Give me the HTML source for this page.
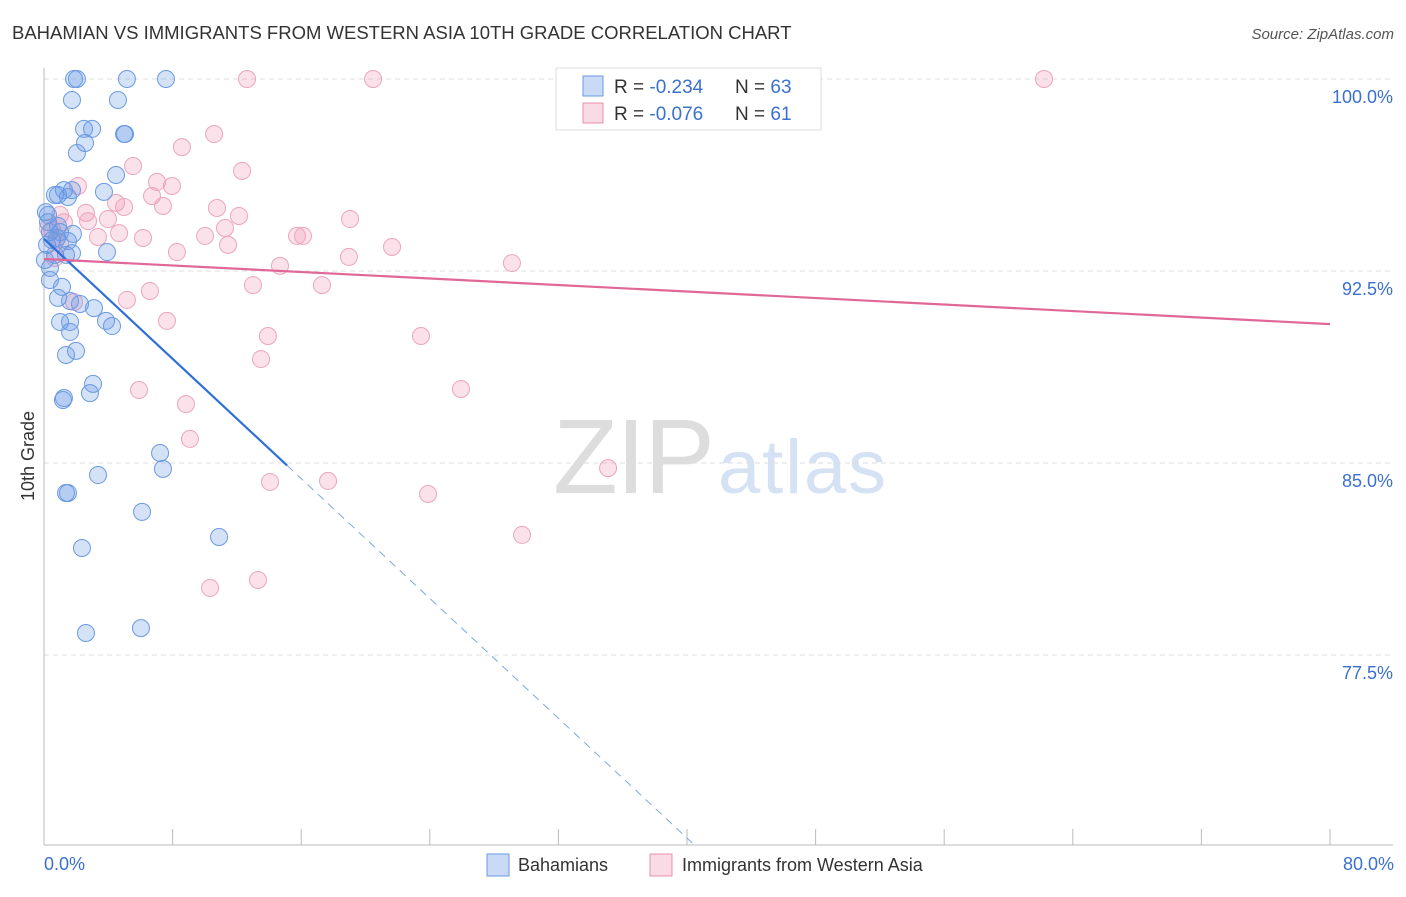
<!DOCTYPE html>
<html><head><meta charset="utf-8"><style>
body{margin:0;background:#fff;font-family:"Liberation Sans",sans-serif}
svg text{font-family:"Liberation Sans",sans-serif}
</style></head><body>
<svg id="chart" width="1406" height="892">
<text x="12" y="39" font-size="18.5" fill="#333">BAHAMIAN VS IMMIGRANTS FROM WESTERN ASIA 10TH GRADE CORRELATION CHART</text>
<text x="1394" y="39" font-size="15" fill="#555" text-anchor="end" font-style="italic">Source: ZipAtlas.com</text>
<g>
<text x="553" y="493" font-size="106" fill="#ddd" font-family="Liberation Serif" textLength="162">ZIP</text>
<text x="718" y="493" font-size="76" fill="#d4e2f4" textLength="168">atlas</text>
</g>
<g id="grid"></g><g id="axes"></g><g id="pts"></g><g id="lines"></g>
<text transform="translate(34,456) rotate(-90)" font-size="18" fill="#333" text-anchor="middle">10th Grade</text>
<g>
<rect x="556" y="68" width="265" height="62" fill="#fff" stroke="#ddd"/>
<rect x="583" y="76" width="20" height="20" fill="rgba(100,150,230,0.35)" stroke="#6a9ae0"/>
<text x="614" y="93" font-size="19" fill="#333">R = <tspan fill="#3a70d0">-0.234</tspan></text>
<text x="735" y="93" font-size="19" fill="#333">N = <tspan fill="#3a70d0">63</tspan></text>
<rect x="583" y="103" width="20" height="20" fill="rgba(240,150,180,0.35)" stroke="#e890b0"/>
<text x="614" y="120" font-size="19" fill="#333">R = <tspan fill="#3a70d0">-0.076</tspan></text>
<text x="735" y="120" font-size="19" fill="#333">N =  <tspan fill="#3a70d0">61</tspan></text>
</g>
<g>
<rect x="487" y="854" width="22" height="22" fill="rgba(100,150,230,0.35)" stroke="#6a9ae0"/>
<text x="518" y="871" font-size="18" fill="#333">Bahamians</text>
<rect x="650" y="854" width="22" height="22" fill="rgba(240,150,180,0.35)" stroke="#e890b0"/>
<text x="682" y="871" font-size="18" fill="#333">Immigrants from Western Asia</text>
</g>
</svg>
<script>
const yTicks=[100,92.5,85,77.5];
const yTickLabels=["100.0%","92.5%","85.0%","77.5%"];
const xTickLabels=["0.0%","80.0%"];
const blueX=[1.87,2.05,5.16,7.59,1.74,4.60,2.49,2.99,5.04,4.98,2.55,2.05,4.48,3.73,0.68,0.87,1.24,1.74,1.49,0.25,0.25,0.37,0.50,0.81,1.0,1.80,1.37,1.74,3.92,0.37,0.37,1.12,0.87,1.62,2.24,3.11,1.0,1.62,3.86,4.23,1.62,1.99,1.37,3.05,2.86,1.24,1.18,7.22,7.40,3.36,1.37,1.49,6.10,10.89,2.36,2.61,6.03,0.06,0.19,0.68,1.49,0.87,0.12];
const blueY=[100,100,100,100,99.18,99.18,98.05,98.05,97.85,97.85,97.5,97.11,96.25,95.59,95.47,95.47,95.66,95.66,95.39,94.69,94.41,94.02,93.71,93.79,94.02,93.95,93.13,93.20,93.24,92.62,92.15,91.88,91.45,91.33,91.21,91.05,90.51,90.51,90.55,90.35,90.12,89.38,89.22,88.09,87.73,87.54,87.46,85.39,84.77,84.53,83.83,83.83,83.09,82.11,81.68,78.36,78.55,92.93,93.52,93.13,93.67,94.26,94.80];
const pinkX=[12.63,20.47,44.04,62.21,10.58,8.58,5.54,12.32,7.03,7.96,2.11,6.72,4.48,4.98,7.40,10.76,12.13,19.04,2.61,3.98,1.0,2.74,11.26,4.67,3.36,6.16,10.02,15.74,16.11,21.65,11.45,8.27,18.97,29.11,14.68,0.50,0.75,1.0,13.0,17.29,6.59,5.16,1.87,7.65,13.93,23.45,13.50,25.94,5.91,8.83,9.08,35.09,14.06,17.67,23.89,29.74,13.31,10.33,0.25,0.68,1.24];
const pinkY=[100,100,100,100,97.85,97.34,96.60,96.41,95.98,95.82,95.82,95.43,95.16,95.0,95.04,94.96,94.65,94.53,94.77,94.53,94.69,94.45,94.18,93.98,93.83,93.79,93.87,93.87,93.87,93.44,93.52,93.24,93.05,92.81,92.70,94.10,93.71,93.59,91.95,91.95,91.72,91.37,91.29,90.55,89.96,89.96,89.06,87.89,87.85,87.30,85.94,84.80,84.26,84.30,83.79,82.19,80.43,80.12,94.18,93.01,94.41];
const blueFit=[93.75,-0.585];
const pinkFit=[92.97,-0.0318];
const NS="http://www.w3.org/2000/svg";
const X=v=>44+v*1286/80, Y=v=>79+(100-v)*25.6;
function mk(p,t,a){const e=document.createElementNS(NS,t);for(const k in a)e.setAttribute(k,a[k]);p.appendChild(e);return e;}
const grid=document.getElementById('grid'),axes=document.getElementById('axes'),pts=document.getElementById('pts'),lines=document.getElementById('lines');
yTicks.forEach((t,i)=>{
 const g=mk(grid,'line',{x1:44,x2:1393,y1:Y(t),y2:Y(t),stroke:'#ddd','stroke-dasharray':'5,4'});
 
 
 const l=mk(axes,'text',{x:1393,y:Y(t)+24,'font-size':18,fill:'#3a70d0','text-anchor':'end'});
 l.textContent=yTickLabels[i];
 
 
});
const ax=mk(axes,'line',{x1:44,x2:44,y1:68,y2:845,stroke:'#bbb'});


const bx=mk(axes,'line',{x1:44,x2:1393,y1:845,y2:845,stroke:'#bbb'});


for(let i=0;i<=10;i++){
 const t=mk(axes,'line',{x1:X(i*8),x2:X(i*8),y1:829,y2:845,stroke:'#bbb'});
 
 
}
[[0,'start',44],[80,'end',1394]].forEach((d,i)=>{
 const t=mk(axes,'text',{x:d[2],y:870,'font-size':18,fill:'#3a70d0','text-anchor':d[1]});
 t.textContent=xTickLabels[i];
 
 
});
function dots(xs,ys,fill,stroke,name){xs.forEach((x,i)=>{
 const c=mk(pts,'circle',{cx:X(x),cy:Y(ys[i]),r:8.5,fill:fill,stroke:stroke,'stroke-width':1});
 
 
});}
dots(pinkX,pinkY,'rgba(240,150,180,0.28)','#eca4bf','point-immigrants');
dots(blueX,blueY,'rgba(100,150,230,0.28)','#6b9ae0','point-bahamians');
const bEndSolid=15.12, bEnd=(blueFit[0]-70.1)/-blueFit[1];
const b1=mk(lines,'line',{x1:X(0),y1:Y(blueFit[0]),x2:X(bEndSolid),y2:Y(blueFit[0]+blueFit[1]*bEndSolid),stroke:'#2f6fd6','stroke-width':2.2});


const b2=mk(lines,'line',{x1:X(bEndSolid),y1:Y(blueFit[0]+blueFit[1]*bEndSolid),x2:X(bEnd),y2:Y(70.1),stroke:'#7fa6e4','stroke-width':1,'stroke-dasharray':'8,6'});


const p1=mk(lines,'line',{x1:X(0),y1:Y(pinkFit[0]),x2:X(80),y2:Y(pinkFit[0]+pinkFit[1]*80),stroke:'#e06898','stroke-width':2.2});


</script>
</body></html>
